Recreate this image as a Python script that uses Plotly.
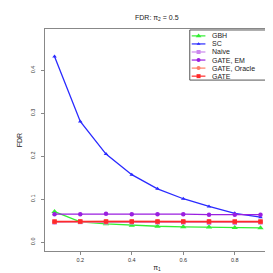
import plotly.graph_objects as go

pi1 = [0.1, 0.2, 0.3, 0.4, 0.5, 0.6, 0.7, 0.8, 0.9]
gbh = [0.071, 0.047, 0.0425, 0.039, 0.037, 0.0357, 0.035, 0.0337, 0.033]
sc = [0.432, 0.281, 0.205, 0.157, 0.124, 0.101, 0.083, 0.067, 0.058]
naive = [0.046, 0.047, 0.046, 0.046, 0.046, 0.046, 0.045, 0.045, 0.046]
gate_em = [0.065, 0.065, 0.066, 0.065, 0.065, 0.065, 0.064, 0.064, 0.064]
gate_oracle = [0.047, 0.048, 0.048, 0.048, 0.048, 0.048, 0.048, 0.047, 0.047]
gate = [0.048, 0.048, 0.048, 0.048, 0.048, 0.048, 0.048, 0.048, 0.048]

series = [
    ("GBH", gbh, "#33ee33", "triangle-up", 5.5),
    ("SC", sc, "#2a2aff", "triangle-up", 4),
    ("Naive", naive, "#cc88ee", "square", 4.5),
    ("GATE, EM", gate_em, "#9a1fe0", "circle", 4.5),
    ("GATE, Oracle", gate_oracle, "#ff7f66", "circle", 4.5),
    ("GATE", gate, "#ff2a2a", "square", 4.5),
]

fig = go.Figure()
for name, ys, col, sym, sz in series:
    fig.add_trace(go.Scatter(
        x=pi1, y=ys, name=name, mode="lines+markers",
        line=dict(color=col, width=1.3),
        marker=dict(symbol=sym, size=sz, color=col),
        showlegend=False,
    ))

# compact legend drawn in a pixel-like overlay axis (x: 33..262, y: 247..21)
leg_x0, leg_x1, leg_y0, leg_y1 = 181, 262, 22, 73
row_y = [28, 36.2, 44.4, 52.6, 60.8, 69]
for (name, ys, col, sym, sz), ry in zip(series, row_y):
    fig.add_trace(go.Scatter(
        x=[183, 197], y=[ry, ry], mode="lines", xaxis="x2", yaxis="y2",
        line=dict(color=col, width=1.2), showlegend=False, hoverinfo="skip"))
    fig.add_trace(go.Scatter(
        x=[190], y=[ry], mode="markers", xaxis="x2", yaxis="y2",
        marker=dict(symbol=sym, size=sz - 0.5, color=col), showlegend=False,
        hoverinfo="skip"))
    fig.add_annotation(x=202, y=ry, xref="x2", yref="y2", text=name,
                       showarrow=False, xanchor="left", yanchor="middle",
                       font=dict(size=7, color="#222222"))
fig.add_shape(type="rect", xref="x2", yref="y2", x0=leg_x0, x1=leg_x1,
              y0=leg_y0, y1=leg_y1, line=dict(color="#555555", width=1),
              fillcolor="rgba(0,0,0,0)")

axis_common = dict(
    showgrid=False, zeroline=False, showline=True, mirror=True,
    linecolor="#888888", linewidth=1, ticks="outside", ticklen=3,
    tickcolor="#888888", tickfont=dict(size=5.5, color="#333333", family="Liberation Sans"),
)

fig.update_layout(
    width=273, height=273,
    margin=dict(l=33, r=11, t=21, b=26),
    paper_bgcolor="white", plot_bgcolor="white",
    font=dict(family="Liberation Sans", color="#222222"),
    title=dict(text="FDR: π<sub>2</sub> = 0.5", x=0.545, xanchor="center",
               y=0.965, yanchor="middle", font=dict(size=7)),
    xaxis=dict(range=[0.063, 0.933], tickvals=[0.2, 0.4, 0.6, 0.8],
               ticktext=["0.2", "0.4", "0.6", "0.8"],
               title=dict(text="π<sub>1</sub>", font=dict(size=7), standoff=3),
               **axis_common),
    yaxis=dict(range=[-0.0206, 0.496], tickvals=[0.0, 0.1, 0.2, 0.3, 0.4],
               ticktext=["0.0", "0.1", "0.2", "0.3", "0.4"], tickangle=-90,
               ticklabelstandoff=4,
               title=dict(text="FDR", font=dict(size=7), standoff=6),
               **axis_common),
    xaxis2=dict(overlaying="x", range=[33, 262], visible=False, fixedrange=True),
    yaxis2=dict(overlaying="y", range=[247, 21], visible=False, fixedrange=True),
    showlegend=False,
)

fig.write_html("out.html")
